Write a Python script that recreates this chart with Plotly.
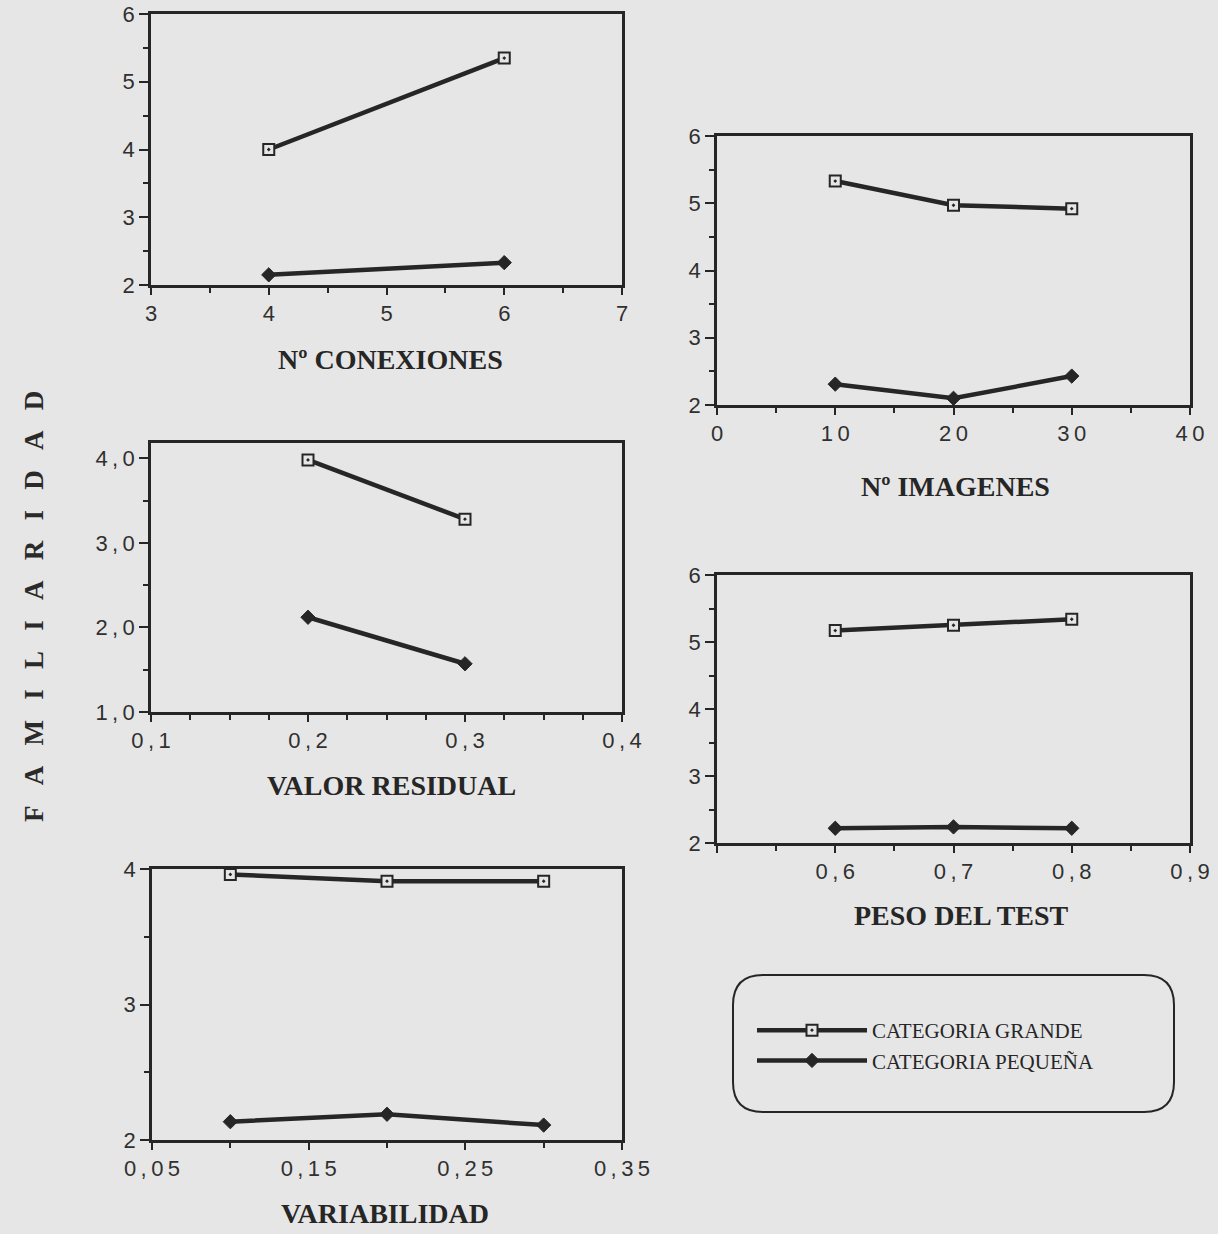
import plotly.graph_objects as go

W, H = 1218, 1234

# ---------------- data ----------------
series_names = ["CATEGORIA GRANDE", "CATEGORIA PEQUEÑA"]
y_title = "FAMILIARIDAD"

conex_x = [4, 6]
conex_grande = [4.0, 5.35]
conex_peq = [2.15, 2.33]

imag_x = [10, 20, 30]
imag_grande = [5.33, 4.97, 4.92]
imag_peq = [2.31, 2.10, 2.43]

resid_x = [0.2, 0.3]
resid_grande = [3.98, 3.28]
resid_peq = [2.12, 1.57]

peso_x = [0.6, 0.7, 0.8]
peso_grande = [5.17, 5.25, 5.34]
peso_peq = [2.22, 2.24, 2.22]

var_x = [0.1, 0.2, 0.3]
var_grande = [3.96, 3.91, 3.91]
var_peq = [2.135, 2.19, 2.11]

conex_xticks = [3, 4, 5, 6, 7]
conex_xlabels = ["3", "4", "5", "6", "7"]
imag_xticks = [0, 10, 20, 30, 40]
imag_xlabels = ["0", "10", "20", "30", "40"]
resid_xticks = [0.1, 0.2, 0.3, 0.4]
resid_xlabels = ["0,1", "0,2", "0,3", "0,4"]
peso_xticks = [0.5, 0.6, 0.7, 0.8, 0.9]
peso_xlabels = ["", "0,6", "0,7", "0,8", "0,9"]
var_xticks = [0.05, 0.15, 0.25, 0.35]
var_xlabels = ["0,05", "0,15", "0,25", "0,35"]

y6_ticks = [2, 3, 4, 5, 6]
y6_labels = ["2", "3", "4", "5", "6"]
resid_yticks = [1, 2, 3, 4]
resid_ylabels = ["1,0", "2,0", "3,0", "4,0"]
var_yticks = [2, 3, 4]
var_ylabels = ["2", "3", "4"]

axis_titles = ["Nº CONEXIONES", "Nº IMAGENES", "VALOR RESIDUAL", "PESO DEL TEST", "VARIABILIDAD"]

# ---------------- style ----------------
BG = "#e6e6e6"
INK = "#262626"
TICKFONT = dict(family="Liberation Sans, Arial, sans-serif", size=22, color="#303030")
TITLEFONT = dict(family="Liberation Serif, Times New Roman, serif", size=28, color="#262626")


def spaced(s):
    return "\u2009".join(s)


def px_x(p):
    return p / W


def px_y(p):
    return 1 - p / H


panels = [
    dict(x=conex_x, g=conex_grande, p=conex_peq, box=(151, 622, 14, 285),
         xr=[3, 7], yr=[2, 6], xt=conex_xticks, xl=conex_xlabels, xminor=0.5,
         yt=y6_ticks, yl=y6_labels, title=axis_titles[0], tpos=(390, 360)),
    dict(x=imag_x, g=imag_grande, p=imag_peq, box=(717, 1190, 136, 405),
         xr=[0, 40], yr=[2, 6], xt=imag_xticks, xl=imag_xlabels, xminor=5,
         yt=y6_ticks, yl=y6_labels, title=axis_titles[1], tpos=(955, 487)),
    dict(x=resid_x, g=resid_grande, p=resid_peq, box=(151, 622, 443, 712),
         xr=[0.1, 0.4], yr=[1, 4.18], xt=resid_xticks, xl=resid_xlabels, xminor=0.025,
         yt=resid_yticks, yl=resid_ylabels, title=axis_titles[2], tpos=(391, 785)),
    dict(x=peso_x, g=peso_grande, p=peso_peq, box=(717, 1190, 575, 843),
         xr=[0.5, 0.9], yr=[2, 6], xt=peso_xticks, xl=peso_xlabels, xminor=0.05,
         yt=y6_ticks, yl=y6_labels, title=axis_titles[3], tpos=(961, 915)),
    dict(x=var_x, g=var_grande, p=var_peq, box=(152, 622, 869, 1140),
         xr=[0.05, 0.35], yr=[2, 4], xt=var_xticks, xl=var_xlabels, xminor=0.05,
         yt=var_yticks, yl=var_ylabels, title=axis_titles[4], tpos=(385, 1213)),
]

fig = go.Figure()
annotations = []

for i, pn in enumerate(panels, start=1):
    xa = "x" if i == 1 else f"x{i}"
    ya = "y" if i == 1 else f"y{i}"
    x0, x1, y0, y1 = pn["box"]
    fig.add_trace(go.Scatter(
        x=pn["x"], y=pn["g"], mode="lines+markers", name=series_names[0],
        legendgroup="g", showlegend=(i == 1), xaxis=xa, yaxis=ya,
        line=dict(color=INK, width=4.5),
        marker=dict(symbol="square-dot", size=11, color=BG, line=dict(color=INK, width=2)),
    ))
    fig.add_trace(go.Scatter(
        x=pn["x"], y=pn["p"], mode="lines+markers", name=series_names[1],
        legendgroup="p", showlegend=(i == 1), xaxis=xa, yaxis=ya,
        line=dict(color=INK, width=4.5),
        marker=dict(symbol="diamond", size=11, color=INK, line=dict(color=INK, width=1)),
    ))
    xkey = "xaxis" if i == 1 else f"xaxis{i}"
    ykey = "yaxis" if i == 1 else f"yaxis{i}"
    fig.update_layout(**{
        xkey: dict(
            domain=[px_x(x0), px_x(x1)], range=pn["xr"], anchor=ya, automargin=False,
            tickmode="array", tickvals=pn["xt"], ticktext=[spaced(t) for t in pn["xl"]],
            ticks="outside", ticklen=7, tickwidth=2, tickcolor=INK,
            minor=dict(ticks="outside", ticklen=5, tickwidth=2, tickcolor=INK,
                       dtick=pn["xminor"], tick0=pn["xr"][0], showgrid=False),
            showline=True, linewidth=2.5, linecolor=INK, mirror=True,
            showgrid=False, zeroline=False, tickfont=TICKFONT,
        ),
        ykey: dict(
            domain=[px_y(y1), px_y(y0)], range=pn["yr"], anchor=xa, automargin=False,
            tickmode="array", tickvals=pn["yt"], ticktext=[spaced(t) for t in pn["yl"]],
            ticks="outside", ticklen=9, tickwidth=2, tickcolor=INK,
            minor=dict(ticks="outside", ticklen=5, tickwidth=2, tickcolor=INK,
                       dtick=0.5, tick0=pn["yr"][0], showgrid=False),
            showline=True, linewidth=2.5, linecolor=INK, mirror=True,
            showgrid=False, zeroline=False, tickfont=TICKFONT,
        ),
    })
    annotations.append(dict(
        text=f"<b>{pn['title']}</b>", xref="paper", yref="paper",
        x=px_x(pn["tpos"][0]), y=px_y(pn["tpos"][1]), xanchor="center", yanchor="middle",
        showarrow=False, font=TITLEFONT,
    ))

# vertical common title
annotations.append(dict(
    text="<b>" + "\u00a0\u00a0\u00a0".join(y_title) + "</b>", xref="paper", yref="paper",
    x=px_x(34), y=px_y(607), xanchor="center", yanchor="middle", textangle=-90,
    showarrow=False, font=dict(family="Liberation Serif, Times New Roman, serif", size=27, color="#2a2a2a"),
))

# rounded legend frame
bx0, bx1, by0, by1, r = 733, 1174, 975, 1112, 30
path = (
    f"M {px_x(bx0 + r)},{px_y(by0)} L {px_x(bx1 - r)},{px_y(by0)} "
    f"Q {px_x(bx1)},{px_y(by0)} {px_x(bx1)},{px_y(by0 + r)} "
    f"L {px_x(bx1)},{px_y(by1 - r)} Q {px_x(bx1)},{px_y(by1)} {px_x(bx1 - r)},{px_y(by1)} "
    f"L {px_x(bx0 + r)},{px_y(by1)} Q {px_x(bx0)},{px_y(by1)} {px_x(bx0)},{px_y(by1 - r)} "
    f"L {px_x(bx0)},{px_y(by0 + r)} Q {px_x(bx0)},{px_y(by0)} {px_x(bx0 + r)},{px_y(by0)} Z"
)

fig.update_layout(
    width=W, height=H,
    margin=dict(l=0, r=0, t=0, b=0, autoexpand=False),
    paper_bgcolor=BG, plot_bgcolor=BG,
    annotations=annotations,
    shapes=[dict(type="path", path=path, xref="paper", yref="paper",
                 line=dict(color=INK, width=2))],
    showlegend=True,
    legend=dict(
        x=px_x(752), y=px_y(1010), xanchor="left", yanchor="top",
        bgcolor="rgba(0,0,0,0)", borderwidth=0, itemwidth=110,
        font=dict(family="Liberation Serif, Times New Roman, serif", size=21, color="#262626"),
        tracegroupgap=0,
    ),
)

fig.write_html(
    "out.html",
    config={"responsive": False, "displayModeBar": False},
    post_script="document.body.style.margin='0';document.body.style.background='" + BG + "';",
)
